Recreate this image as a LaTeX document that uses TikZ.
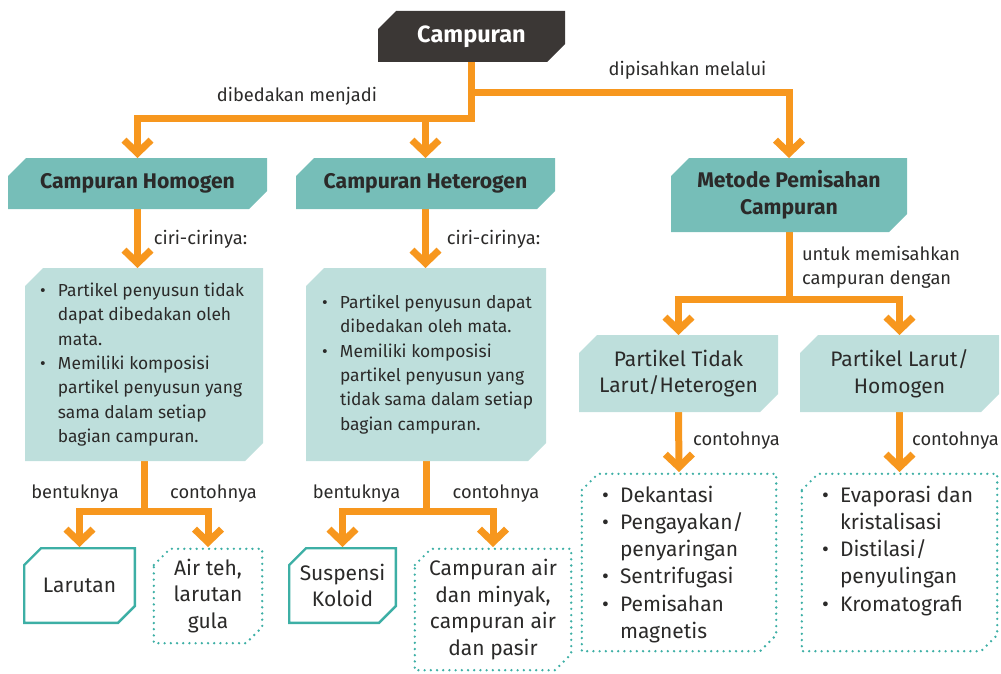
\documentclass[tikz,border=0pt]{standalone}
\usepackage{fontspec}
\setmainfont{Fira Sans}
\usetikzlibrary{arrows.meta,backgrounds}
\definecolor{dk}{HTML}{3B3735}
\definecolor{tealA}{HTML}{76BEB8}
\definecolor{tealL}{HTML}{BEDFDC}
\definecolor{tealO}{HTML}{3DAFA5}
\definecolor{org}{HTML}{F7971E}
\definecolor{txt}{HTML}{2B2A29}
\newlength\cutsz
\setlength\cutsz{18pt}
\newlength\bind
\setlength\bind{18pt}
\newcommand\bitem{\par\noindent\hangindent=\bind\hangafter=1\rightskip=0pt plus 1fil\makebox[\bind][l]{\textbullet}}
\newcommand\chpath[1]{([shift={(#1,-\cutsz)}]path picture bounding box.north west) --
  ([shift={(\cutsz,-#1)}]path picture bounding box.north west) --
  ([shift={(-#1,-#1)}]path picture bounding box.north east) --
  ([shift={(-#1,\cutsz)}]path picture bounding box.south east) --
  ([shift={(-\cutsz,#1)}]path picture bounding box.south east) --
  ([shift={(#1,#1)}]path picture bounding box.south west) -- cycle}
\tikzset{
  box/.style={shape=rectangle, inner sep=0pt, outer sep=0pt, align=center, text=txt},
  chamf/.style={path picture={\fill[#1] \chpath{0pt};}},
  chline/.style={path picture={\draw[tealO, line width=2.4pt, line join=miter] \chpath{1.2pt};}},
  chdots/.style={path picture={\draw[tealO, line width=2.6pt, line cap=round, dash pattern=on 0pt off 6.2pt] \chpath{1.8pt};}},
  conn/.style={draw=org, line width=7pt, line cap=rect, line join=miter},
  arr/.style={conn, -{Straight Barb[length=13pt,width=27pt]}},
  lab/.style={inner sep=0pt, outer sep=0pt, text=txt, font=\fontsize{18.3}{24.5}\selectfont},
  hfont/.style={font=\bfseries\fontsize{21.2}{27}\selectfont},
  mfont/.style={font=\fontsize{21}{26.8}\selectfont},
}
\newcommand\listfont{\fontsize{17.4}{24.3}\selectfont}
\newcommand\biglist{\fontsize{21}{27.2}\selectfont}
\begin{document}
\begin{tikzpicture}[x=1pt,y=-1pt]
\useasboundingbox (0,0) rectangle (1001,674);
% heading nodes
\node[box, chamf=dk, minimum width=187pt, minimum height=51pt, text=white, font=\bfseries\fontsize{23.5}{26}\selectfont] (top) at (471.5,36.5) {Campuran};
\node[box, chamf=tealA, minimum width=259pt, minimum height=51pt, hfont] (hom) at (137.5,183.5) {Campuran Homogen};
\node[box, chamf=tealA, minimum width=259pt, minimum height=51pt, hfont] (het) at (425.5,183.5) {Campuran Heterogen};
\node[box, chamf=tealA, minimum width=236pt, minimum height=74pt, hfont] (met) at (789,195) {Metode Pemisahan\\Campuran};
% list boxes
\node[box, chamf=tealL, minimum width=238pt, minimum height=193pt] (hombox) at (144,364.5) {\begin{minipage}{220pt}\listfont\leftskip=6pt
\bitem Partikel penyusun tidak\newline dapat dibedakan oleh\newline mata.
\bitem Memiliki komposisi\newline partikel penyusun yang\newline sama dalam setiap\newline bagian campuran.\par\end{minipage}};
\node[box, chamf=tealL, minimum width=240pt, minimum height=193pt] (hetbox) at (426,364.5) {\begin{minipage}{220pt}\listfont\leftskip=6pt
\bitem Partikel penyusun dapat\newline dibedakan oleh mata.
\bitem Memiliki komposisi\newline partikel penyusun yang\newline tidak sama dalam setiap\newline bagian campuran.\par\end{minipage}};
% bottom left boxes
\node[box, chline, minimum width=113pt, minimum height=77pt, mfont] (lar) at (79.5,585.5) {Larutan};
\node[box, chdots, minimum width=112pt, minimum height=98pt, mfont] (air) at (208,596) {Air teh,\\larutan\\gula};
\node[box, chline, minimum width=109pt, minimum height=77pt, mfont] (sus) at (342.5,585.5) {Suspensi\\Koloid};
\node[box, chdots, minimum width=160pt, minimum height=125pt, mfont] (cam) at (493,609.5) {Campuran air\\dan minyak,\\campuran air\\dan pasir};
% separation
\node[box, chamf=tealL, minimum width=199pt, minimum height=77pt, mfont] (pt) at (678.5,373.5) {Partikel Tidak\\Larut/Heterogen};
\node[box, chamf=tealL, minimum width=199pt, minimum height=77pt, mfont] (pl) at (899.5,373.5) {Partikel Larut/\\Homogen};
\node[box, chdots, minimum width=198pt, minimum height=181pt] (dek) at (679,562.5) {\begin{minipage}[c][153pt][t]{170pt}\biglist\leftskip=8pt
\bitem Dekantasi
\bitem Pengayakan/\newline penyaringan
\bitem Sentrifugasi
\bitem Pemisahan\newline magnetis\par\end{minipage}};
\node[box, chdots, minimum width=199pt, minimum height=181pt] (eva) at (899.5,562.5) {\begin{minipage}[c][153pt][t]{170pt}\biglist\leftskip=7.5pt
\bitem Evaporasi dan\newline kristalisasi
\bitem Distilasi/\newline penyulingan
\bitem Kromatografi\par\end{minipage}};
% labels
\node[lab, anchor=base] (l1) at (297,102) {dibedakan menjadi};
\node[lab, anchor=base] (l2) at (687.5,76) {dipisahkan melalui};
\node[lab, anchor=base] (l3) at (200.5,244) {ciri-cirinya:};
\node[lab, anchor=base] (l4) at (493.5,244) {ciri-cirinya:};
\node[lab, anchor=base] (l5) at (75,498) {bentuknya};
\node[lab, anchor=base] (l6) at (213.5,498) {contohnya};
\node[lab, anchor=base] (l7) at (356.5,498) {bentuknya};
\node[lab, anchor=base] (l8) at (496,498) {contohnya};
\node[lab, anchor=north west, align=left] (l9) at (802,246) {untuk memisahkan\\campuran dengan};
\node[lab, anchor=base] (l10) at (736.5,445) {contohnya};
\node[lab, anchor=base] (l11) at (955.5,445) {contohnya};
% connectors
\begin{scope}[on background layer]
\coordinate (j1) at (471.5,119);
\coordinate (j2) at (471.5,93);
\coordinate (j3) at (144,511);
\coordinate (j4) at (426,511);
\coordinate (j5) at (789,299);
\draw[arr] (top.south) -- (j1) -| (hom.north);
\draw[arr] (j1) -| (het.north);
\draw[arr] (j2) -| (met.north);
\draw[arr] (hom.south) -- (hom.south |- hombox.north);
\draw[arr] (het.south) -- (het.south |- hetbox.north);
\draw[arr] (hombox.south) -- (j3) -| (lar.north);
\draw[arr] (j3) -| (air.north);
\draw[arr] (hetbox.south) -- (j4) -| (sus.north);
\draw[arr] (j4) -| (cam.north);
\draw[arr] (met.south) -- (j5) -| (pt.north);
\draw[arr] (j5) -| (pl.north);
\draw[arr] (pt.south) -- (dek.north);
\draw[arr] (pl.south) -- (eva.north);
\end{scope}
\end{tikzpicture}
\end{document}
